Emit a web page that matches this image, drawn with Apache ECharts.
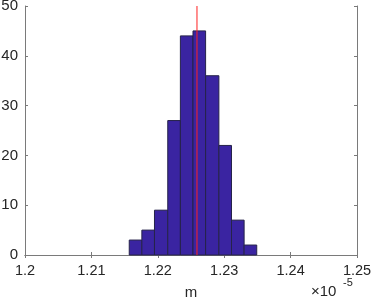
<!DOCTYPE html>
<html><head><meta charset="utf-8">
<script src="https://cdn.jsdelivr.net/npm/echarts@6/dist/echarts.min.js"></script>
<style>html,body{margin:0;padding:0;background:#fff}#c{width:374px;height:301px}</style>
</head><body><div id="c"></div>
<script>
// values in units of 1e-5
const binEdges = [1.2157, 1.2176, 1.2195, 1.2215, 1.2234, 1.2253, 1.2272, 1.2292, 1.2311, 1.2330, 1.2349];
const counts = [3, 5, 9, 27, 44, 45, 36, 22, 7, 2];
const redLineX = 1.2259;
const xTicks = ['1.2', '1.21', '1.22', '1.23', '1.24', '1.25'];
const yTicks = [0, 10, 20, 30, 40, 50];

const barData = counts.map((c, i) => [binEdges[i], binEdges[i + 1], c]);
const font = 'Liberation Sans, Helvetica, Arial, sans-serif';
const axisCol = '#7a7a7a';
const txtCol = '#262626';

const chart = echarts.init(document.getElementById('c'), null, {renderer: 'canvas'});
chart.setOption({
  animation: false,
  grid: {left: 25, right: 17, top: 6, bottom: 46, containLabel: false, outerBoundsMode: 'none'},
  xAxis: [{
    type: 'value', min: 1.2, max: 1.25, interval: 0.01, position: 'bottom',
    axisLine: {show: true, lineStyle: {color: axisCol, width: 1}},
    axisTick: {show: true, inside: true, length: 3, lineStyle: {color: axisCol}},
    splitLine: {show: false},
    axisLabel: {color: txtCol, fontSize: 14.5, fontFamily: font, margin: 8,
      formatter: v => xTicks[Math.round((v - 1.2) * 100)]},
    name: 'm', nameLocation: 'middle', nameGap: 30,
    nameTextStyle: {color: txtCol, fontSize: 15, fontFamily: font}
  }, {
    type: 'value', min: 1.2, max: 1.25, interval: 0.01, position: 'top',
    axisLine: {show: true, lineStyle: {color: axisCol, width: 1}},
    axisTick: {show: true, inside: true, length: 3, lineStyle: {color: axisCol}},
    splitLine: {show: false}, axisLabel: {show: false}
  }],
  yAxis: [{
    type: 'value', min: 0, max: 50, interval: 10, position: 'left',
    axisLine: {show: true, lineStyle: {color: axisCol, width: 1}},
    axisTick: {show: true, inside: true, length: 3, lineStyle: {color: axisCol}},
    splitLine: {show: false},
    axisLabel: {color: txtCol, fontSize: 15, fontFamily: font, margin: 7,
      formatter: v => String(yTicks[Math.round(v / 10)])}
  }, {
    type: 'value', min: 0, max: 50, interval: 10, position: 'right',
    axisLine: {show: true, lineStyle: {color: axisCol, width: 1}},
    axisTick: {show: true, inside: true, length: 3, lineStyle: {color: axisCol}},
    splitLine: {show: false}, axisLabel: {show: false}
  }],
  series: [{
    type: 'custom',
    xAxisIndex: 0, yAxisIndex: 0,
    data: barData,
    encode: {x: [0, 1], y: 2},
    renderItem: function (params, api) {
      const p0 = api.coord([api.value(0), 0]);
      const p1 = api.coord([api.value(1), api.value(2)]);
      return {
        type: 'rect',
        shape: {x: p0[0], y: p1[1], width: p1[0] - p0[0], height: p0[1] - p1[1]},
        style: {fill: '#3a24a1', stroke: '#26234a', lineWidth: 1}
      };
    }
  }, {
    type: 'line',
    xAxisIndex: 0, yAxisIndex: 0,
    data: [[redLineX, 0], [redLineX, 50]],
    symbol: 'none',
    lineStyle: {color: '#ff2020', width: 1},
    z: 5
  }],
  graphic: [{
    type: 'text', left: 311, top: 284,
    style: {text: '×10', fontSize: 15, fontFamily: font, fill: txtCol}
  }, {
    type: 'text', left: 343, top: 277,
    style: {text: '-5', fontSize: 11, fontFamily: font, fill: txtCol}
  }]
});
</script></body></html>
